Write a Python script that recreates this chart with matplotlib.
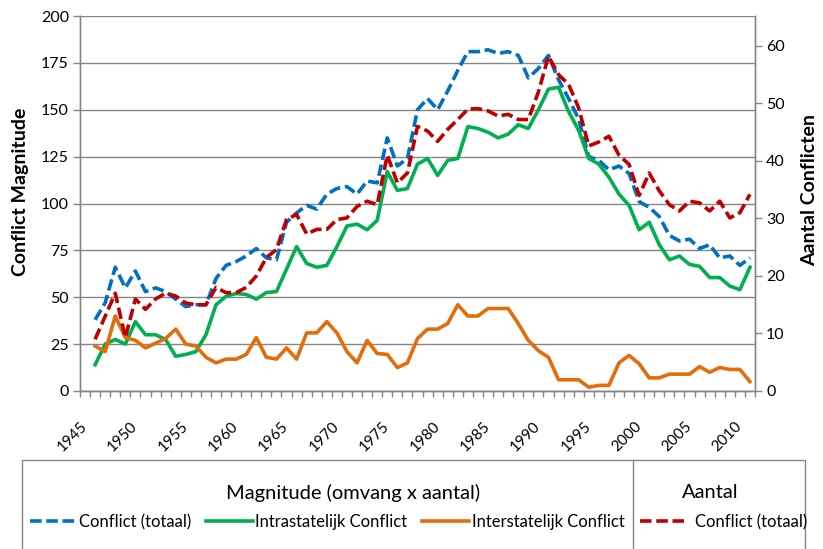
"""Conflict magnitude and number of conflicts, 1946-2011."""

import matplotlib

matplotlib.use("Agg")
import matplotlib.pyplot as plt
import numpy as np
from matplotlib.lines import Line2D
from matplotlib.patches import Rectangle
from matplotlib.transforms import ScaledTranslation

plt.rcParams["font.family"] = ["Lato", "DejaVu Sans"]

years = np.arange(1946, 2012)

# Magnitude (omvang x aantal), left axis
conflict_total = [
    38, 47, 66, 55, 64, 53, 55, 53, 49, 45,
    46, 46, 60, 67, 69, 72, 76, 71, 70, 90,
    95, 99, 97, 105, 108, 109, 105, 112, 111, 135,
    120, 124, 150, 156, 150, 160, 171, 181, 181, 182,
    180, 181, 179, 167, 172, 179, 166, 156, 145, 125,
    123, 118, 120, 116, 101, 98, 93, 83, 80, 81,
    76, 78, 71, 72, 67, 71,
]
intrastate = [
    14, 25, 27.5, 25, 37, 30, 30, 27.5, 18.5, 19.5,
    21, 30, 46, 50.5, 52, 51.5, 49, 52.5, 53, 65,
    77, 68, 66, 67, 77, 88, 89, 86, 91, 117,
    107, 108, 121, 124, 115, 123, 124, 141, 140, 138,
    135, 137, 142, 140, 150, 161, 162, 149, 139, 124,
    121, 114, 105, 99, 86, 90, 78, 70, 72, 67.5,
    66.5, 60.5, 60.5, 56, 54, 66,
]
interstate = [
    24, 21, 40, 28.5, 27, 23, 25.5, 28, 33, 25,
    24, 18, 15, 17, 17, 19.5, 28.5, 18, 17, 23,
    17, 31, 31, 37, 31, 21, 15, 27, 20, 19.5,
    12.5, 15, 28, 33, 33, 36, 46, 40, 40, 44,
    44, 44, 36, 27, 21.5, 18, 6, 6, 6, 2,
    3, 3, 15, 19, 14.5, 7, 7, 9, 9, 9,
    13, 10, 12.5, 11.5, 11.5, 5,
]

# Aantal conflicten, right axis
conflict_count = [
    9, 13, 17, 9.3, 16, 14.2, 16, 17, 16.5, 15.3,
    15, 15, 18, 17.1, 17.1, 18, 20, 23.2, 24.6, 29.8,
    30.7, 27.3, 28.1, 28.1, 29.8, 30.1, 32.1, 33, 32.4, 41,
    36.2, 37.9, 46, 45.2, 43.4, 45.5, 47.2, 49, 49.1, 48.7,
    47.8, 48.1, 47.2, 47.2, 52, 58.2, 55, 53.3, 49.2, 42.6,
    43.3, 44.3, 41, 39.4, 34, 37.9, 34.8, 32.4, 31.3, 33,
    32.7, 31.3, 33, 30.1, 31, 34.2,
]

label_years = np.arange(1945, 2011, 5)

BLUE = "#0070C0"
GREEN = "#00B050"
ORANGE = "#E46C0A"
RED = "#C00000"
GRID = "#868686"
DASH = (0, (3.2, 1.3))
LW = 2.6

fig = plt.figure(figsize=(8.23, 5.49), dpi=100)
W, H = 823, 549
ax = fig.add_axes([80 / W, 1 - 391 / H, 675 / W, 375 / H])
ax2 = ax.twinx()

ax.plot(years, conflict_total, color=BLUE, lw=LW, linestyle=DASH)
ax.plot(years, intrastate, color=GREEN, lw=LW)
ax.plot(years, interstate, color=ORANGE, lw=LW)
ax2.plot(years, conflict_count, color=RED, lw=LW, linestyle=DASH)

ax.set_xlim(1944.5, 2011.5)
ax.set_ylim(0, 200)
ax.set_yticks(np.arange(0, 201, 25))
ax2.set_ylim(0, 65.2)
ax2.set_yticks(np.arange(0, 61, 10))

ax.grid(axis="y", color=GRID, lw=1.0)
ax.set_axisbelow(True)

ax.set_xticks(label_years)
ax.set_xticklabels([str(y) for y in label_years], rotation=45, ha="right",
                   va="center", rotation_mode="anchor", fontsize=11)
shift = ScaledTranslation(11 / 100, 0, fig.dpi_scale_trans)
for lab in ax.get_xticklabels():
    lab.set_transform(lab.get_transform() + shift)
ax.set_xticks(np.arange(1944.5, 2012, 1), minor=True)
ax.tick_params(axis="x", which="major", length=0, pad=24)
ax.tick_params(axis="x", which="minor", length=4, color=GRID, width=1)
ax.tick_params(axis="y", length=5, color=GRID, width=1, labelsize=11.5, pad=3)
ax2.tick_params(axis="y", length=5, color=GRID, width=1, labelsize=11.5, pad=3)

for a in (ax, ax2):
    a.spines["top"].set_visible(False)
    for side in ("left", "right", "bottom"):
        a.spines[side].set_color(GRID)
        a.spines[side].set_linewidth(1.0)

ax.set_ylabel("Conflict Magnitude", fontsize=14, fontweight="bold")
ax.yaxis.set_label_coords(-0.076, 0.53)
ax2.set_ylabel("Aantal Conflicten", fontsize=14, fontweight="bold", rotation=90)
ax2.yaxis.set_label_coords(1.068, 0.535)

# Legend box with two groups
box = Rectangle((22 / W, -0.05), (805 - 22) / W, (549 - 460) / H + 0.05,
                transform=fig.transFigure, fill=False, edgecolor=GRID, lw=1.0,
                clip_on=False)
fig.patches.append(box)
fig.add_artist(Line2D([633 / W, 633 / W], [0, 1 - 460 / H], transform=fig.transFigure,
                      color=GRID, lw=1.0))

fig.text(353 / W, 1 - 493 / H, "Magnitude (omvang x aantal)", ha="center", va="center",
         fontsize=14.5)
fig.text(710 / W, 1 - 493 / H, "Aantal", ha="center", va="center", fontsize=14.5)

left_handles = [
    Line2D([], [], color=BLUE, lw=LW, linestyle=DASH),
    Line2D([], [], color=GREEN, lw=LW),
    Line2D([], [], color=ORANGE, lw=LW),
]
left_labels = ["Conflict (totaal)", "Intrastatelijk Conflict", "Interstatelijk Conflict"]
fig.legend(left_handles, left_labels, ncol=3, frameon=False, fontsize=12,
           loc="center", bbox_to_anchor=(327 / W, 1 - 522 / H),
           handlelength=2.8, handletextpad=0.15, columnspacing=0.9,
           borderpad=0, borderaxespad=0)
fig.legend([Line2D([], [], color=RED, lw=LW, linestyle=DASH)], ["Conflict (totaal)"],
           frameon=False, fontsize=12, loc="center",
           bbox_to_anchor=(724 / W, 1 - 522 / H), handlelength=2.8,
           handletextpad=0.5, borderpad=0, borderaxespad=0)

fig.savefig("out.png", dpi=100)
